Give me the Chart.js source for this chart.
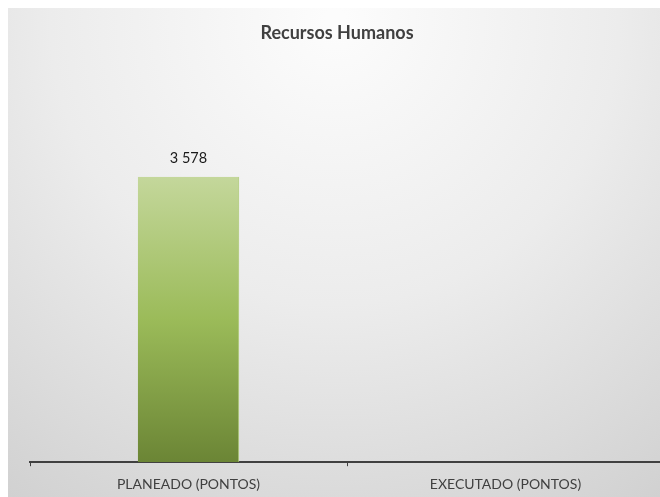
<!DOCTYPE html>
<html>
<head>
<meta charset="utf-8">
<script src="https://cdn.jsdelivr.net/npm/chart.js@4/dist/chart.umd.min.js"></script>
<style>
html,body{margin:0;padding:0;background:#fff;overflow:hidden;width:660px;height:497px;}
#wrap{position:absolute;left:0;top:0;width:672px;height:503px;}
</style>
</head>
<body>
<div id="wrap"><canvas id="c" width="672" height="503"></canvas></div>
<script>
const chartTitle = "Recursos Humanos";
const categories = ["PLANEADO (PONTOS)", "EXECUTADO (PONTOS)"];
const seriesValues = [3578, null];
const yMin = 0;
const yMax = 4000;

const FONT = 'Lato, "Open Sans", sans-serif';
function fmt(v){ return String(v).replace(/\B(?=(\d{3})+(?!\d))/g, " "); }

const bgPlugin = {
  id: 'bg',
  beforeDraw(chart){
    const ctx = chart.ctx;
    ctx.save();
    const g = ctx.createRadialGradient(335, 20, 10, 335, 20, 620);
    g.addColorStop(0, '#fcfcfc');
    g.addColorStop(0.45, '#ececec');
    g.addColorStop(1, '#cdcdcd');
    ctx.fillStyle = g;
    ctx.fillRect(8, 8, chart.width - 8, chart.height - 8);
    ctx.fillStyle = '#404040';
    ctx.font = 'bold 18px ' + FONT;
    ctx.textAlign = 'center';
    ctx.textBaseline = 'middle';
    ctx.fillText(chartTitle, 337, 33);
    ctx.restore();
  }
};

const labelPlugin = {
  id: 'vlabels',
  afterDatasetsDraw(chart){
    const ctx = chart.ctx;
    const meta = chart.getDatasetMeta(0);
    ctx.save();
    ctx.font = '14.5px ' + FONT;
    ctx.fillStyle = '#1a1a1a';
    ctx.textAlign = 'center';
    ctx.textBaseline = 'middle';
    meta.data.forEach((el, i) => {
      const v = chart.data.datasets[0].data[i];
      if (v === null || v === undefined) return;
      ctx.fillText(fmt(v), el.x, el.y - 18);
    });
    ctx.restore();
  }
};

const ctx = document.getElementById('c').getContext('2d');
new Chart(ctx, {
  type: 'bar',
  data: {
    labels: categories,
    datasets: [{
      data: seriesValues,
      backgroundColor: (c) => {
        const ch = c.chart;
        const a = ch.chartArea;
        if (!a) return '#9bbb59';
        const g = ch.ctx.createLinearGradient(0, ch.scales.y.getPixelForValue(seriesValues[0] || 0), 0, a.bottom);
        g.addColorStop(0, '#c4d79b');
        g.addColorStop(0.5, '#9bbb59');
        g.addColorStop(1, '#6b8535');
        return g;
      },
      borderColor: '#a9c76f',
      borderWidth: {right: 1, left: 0, top: 0, bottom: 0},
      barPercentage: 0.64,
      categoryPercentage: 0.5
    }]
  },
  options: {
    responsive: false,
    animation: false,
    layout: { padding: { left: 30, right: 8, top: 143, bottom: 0 } },
    plugins: {
      legend: { display: false },
      tooltip: { enabled: false },
      title: { display: false }
    },
    scales: {
      x: {
        offset: true,
        grid: { display: true, offset: true, drawOnChartArea: false, drawTicks: true, tickLength: 4, color: '#404040', lineWidth: 1 },
        border: { display: true, color: '#404040', width: 2 },
        ticks: { color: '#404040', font: { family: FONT, size: 14 }, padding: 10, maxRotation: 0 }
      },
      y: {
        display: false,
        min: yMin,
        max: yMax
      }
    }
  },
  plugins: [bgPlugin, labelPlugin]
});
</script>
</body>
</html>
